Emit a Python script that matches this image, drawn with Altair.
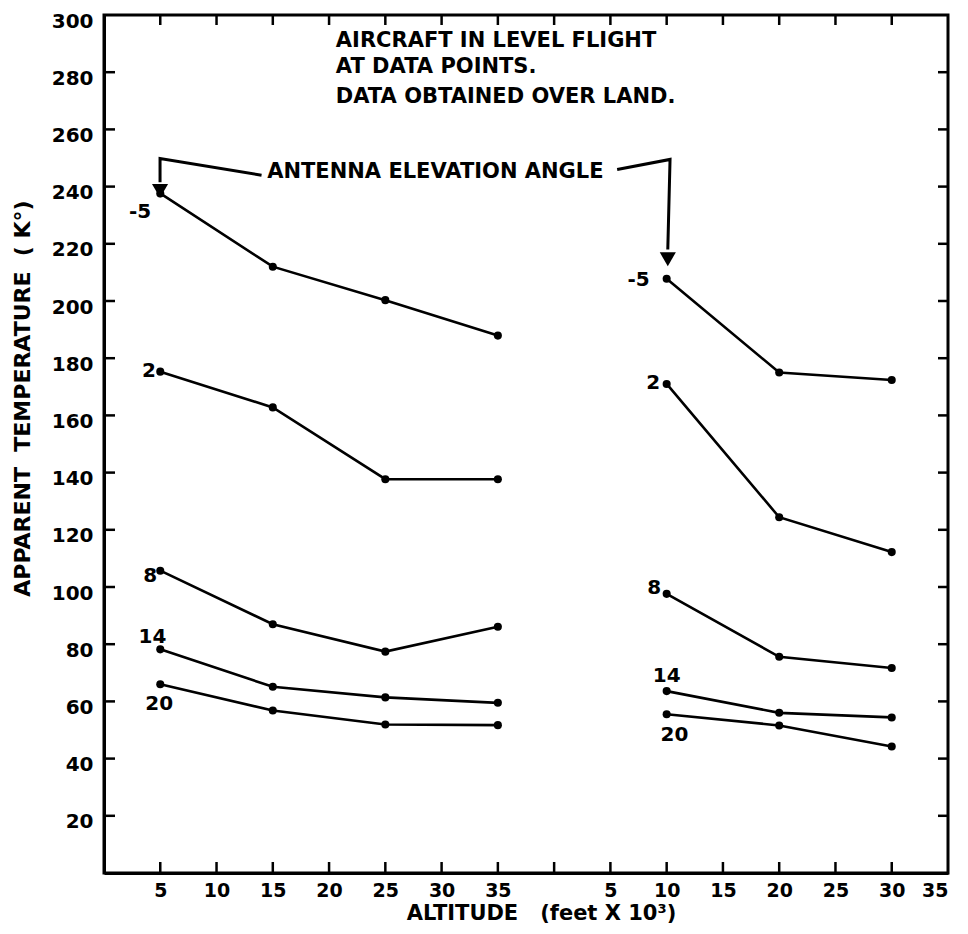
import altair as alt
import pandas as pd

FONT = "DejaVu Sans"

# ---- data ----
angles = ["-5", "2", "8", "14", "20"]

left_alt = [5, 15, 25, 35]
left_temps = {
    "-5": [237.6, 212.0, 200.3, 187.9],
    "2": [175.3, 162.8, 137.7, 137.7],
    "8": [105.7, 87.0, 77.4, 86.1],
    "14": [78.2, 65.1, 61.4, 59.5],
    "20": [66.0, 56.8, 51.9, 51.7],
}

right_alt = [10, 20, 30]
right_temps = {
    "-5": [207.8, 175.0, 172.4],
    "2": [171.0, 124.4, 112.2],
    "8": [97.6, 75.6, 71.7],
    "14": [63.6, 56.0, 54.4],
    "20": [55.5, 51.6, 44.2],
}

# second altitude scale starts after a gap of 40 units on the axis
RIGHT_OFFSET = 40

x_tick_values = [5, 10, 15, 20, 25, 30, 35, 45, 50, 55, 60, 65, 70, 75]
x_tick_marks = [5, 10, 15, 20, 25, 30, 35, 40, 45, 50, 55, 60, 65, 70]
y_tick_values = [20, 40, 60, 80, 100, 120, 140, 160, 180, 200, 220, 240, 260, 280, 300]
y_tick_marks = [20, 40, 60, 80, 100, 120, 140, 160, 180, 200, 220, 240, 260, 280]

# ---- build tables ----
rows = []
for a in angles:
    for alt_v, t in zip(left_alt, left_temps[a]):
        rows.append({"pos": alt_v, "temp": t, "series": "L" + a})
    for alt_v, t in zip(right_alt, right_temps[a]):
        rows.append({"pos": alt_v + RIGHT_OFFSET, "temp": t, "series": "R" + a})
df = pd.DataFrame(rows)

series_labels = pd.DataFrame({
    "text": angles + angles,
    "pos": [3.2, 4.0, 4.1, 4.3, 4.9, 47.5, 48.8, 48.9, 50.0, 50.7],
    "temp": [231.1, 175.6, 103.8, 82.6, 59.1, 207.3, 171.4, 99.5, 68.9, 48.3],
})

notes = pd.DataFrame({
    "text": ["AIRCRAFT IN LEVEL FLIGHT", "AT DATA POINTS.", "DATA OBTAINED OVER LAND.",
             "ANTENNA ELEVATION ANGLE"],
    "pos": [20.6, 20.6, 20.6, 14.5],
    "temp": [288.8, 279.7, 269.2, 243.0],
})

arrows = pd.DataFrame({
    "arrow": ["a", "a", "a", "b", "b", "b"],
    "order": [0, 1, 2, 0, 1, 2],
    "pos": [14.0, 4.98, 4.98, 45.6, 50.3, 50.1],
    "temp": [244.0, 249.8, 241.5, 246.0, 249.5, 218.0],
})
heads = pd.DataFrame({"pos": [4.98, 50.1], "temp": [238.5, 214.6]})

xscale = alt.Scale(domain=[0, 75], nice=False, zero=False)
yscale = alt.Scale(domain=[0, 300], nice=False, zero=False)

W, H = 844, 858
NB = "\u00a0"

x_axis = alt.Axis(
    values=x_tick_values,
    labelExpr="datum.value > 40 ? datum.value - 40 : datum.value",
    title="ALTITUDE" + NB + NB + " (feet X 10³)",
    ticks=False, grid=False,
    labelPadding=8, labelFontSize=19, labelFont=FONT, labelFontWeight="bold",
    labelColor="black",
    titleFont=FONT, titleFontSize=21, titleFontWeight="bold", titleColor="black",
    titleX=437, titleY=40, titleBaseline="middle", titleAlign="center",
    domainColor="black", domainWidth=3,
)
y_axis = alt.Axis(
    values=y_tick_values,
    title="APPARENT" + NB + " TEMPERATURE" + NB + " ( K°)",
    ticks=False, grid=False,
    labelPadding=11, labelFontSize=20, labelFont=FONT, labelFontWeight="bold",
    labelColor="black", labelOffset=6,
    titleFont=FONT, titleFontSize=22, titleFontWeight="bold", titleColor="black",
    titleX=-82, titleY=383, titleBaseline="middle", titleAlign="center",
    titleAngle=270,
    domainColor="black", domainWidth=3,
)

base = alt.Chart(df)
lines = base.mark_line(color="black", strokeWidth=2.6).encode(
    x=alt.X("pos:Q", scale=xscale, axis=x_axis),
    y=alt.Y("temp:Q", scale=yscale, axis=y_axis),
    detail="series:N",
)
dots = base.mark_circle(color="black", size=65, opacity=1).encode(
    x=alt.X("pos:Q", scale=xscale),
    y=alt.Y("temp:Q", scale=yscale),
)

labels = alt.Chart(series_labels).mark_text(
    font=FONT, fontSize=20, fontWeight="bold", color="black",
    align="center", baseline="middle",
).encode(x=alt.X("pos:Q", scale=xscale), y=alt.Y("temp:Q", scale=yscale), text="text:N")

note_text = alt.Chart(notes).mark_text(
    font=FONT, fontSize=21, fontWeight="bold", color="black",
    align="left", baseline="alphabetic",
).encode(x=alt.X("pos:Q", scale=xscale), y=alt.Y("temp:Q", scale=yscale), text="text:N")

arrow_lines = alt.Chart(arrows).mark_line(color="black", strokeWidth=3).encode(
    x=alt.X("pos:Q", scale=xscale), y=alt.Y("temp:Q", scale=yscale),
    detail="arrow:N", order="order:Q",
)
arrow_heads = alt.Chart(heads).mark_point(
    shape="triangle-down", filled=True, color="black", size=260, opacity=1,
).encode(x=alt.X("pos:Q", scale=xscale), y=alt.Y("temp:Q", scale=yscale))

# inward-pointing tick marks on all four sides
xt = pd.DataFrame({"pos": x_tick_marks})
yt = pd.DataFrame({"temp": y_tick_marks})
bottom_ticks = alt.Chart(xt).mark_rule(color="black", strokeWidth=2.5).encode(
    x=alt.X("pos:Q", scale=xscale), y=alt.value(H), y2=alt.value(H - 11))
top_ticks = alt.Chart(xt).mark_rule(color="black", strokeWidth=2.5).encode(
    x=alt.X("pos:Q", scale=xscale), y=alt.value(0), y2=alt.value(10))
left_ticks = alt.Chart(yt).mark_rule(color="black", strokeWidth=2.5).encode(
    y=alt.Y("temp:Q", scale=yscale), x=alt.value(0), x2=alt.value(11))
right_ticks = alt.Chart(yt).mark_rule(color="black", strokeWidth=2.5).encode(
    y=alt.Y("temp:Q", scale=yscale), x=alt.value(W), x2=alt.value(W - 10))

chart = alt.layer(
    lines, dots, labels, note_text, arrow_lines, arrow_heads,
    bottom_ticks, top_ticks, left_ticks, right_ticks,
).properties(
    width=W, height=H,
    autosize=alt.AutoSizeParams(type="none"),
    padding={"left": 96, "top": 7, "right": 12, "bottom": 53},
    background="white",
).configure_view(stroke="black", strokeWidth=3)

chart.save("out.html", embed_options={"renderer": "svg", "actions": False})
